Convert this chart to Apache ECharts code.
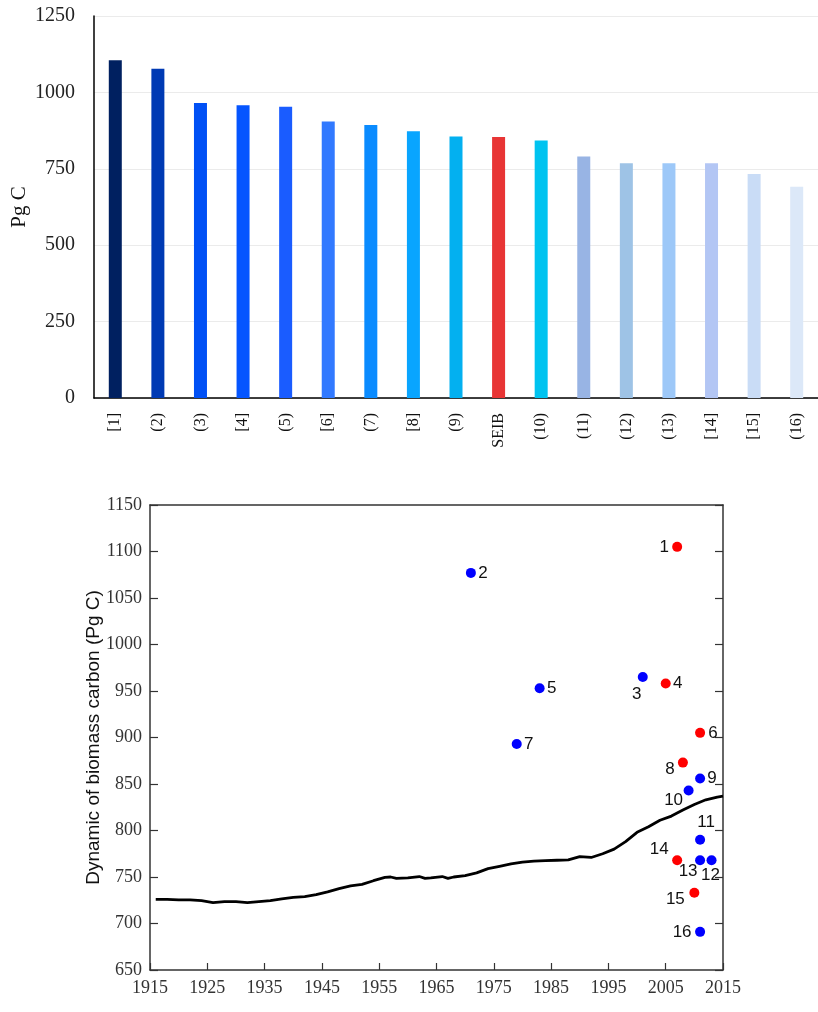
<!DOCTYPE html>
<html>
<head>
<meta charset="utf-8">
<script src="https://cdn.jsdelivr.net/npm/echarts@6/dist/echarts.min.js"></script>
<style>
  html, body { margin: 0; padding: 0; background: #ffffff; }
  #chart { width: 818px; height: 1012px; }
</style>
</head>
<body>
<div id="chart"></div>
<script>
// Global biomass carbon estimates (Pg C); square brackets mark the estimates shown in red
const barLabels = ['[1]', '(2)', '(3)', '[4]', '(5)', '[6]', '(7)', '[8]', '(9)', 'SEIB',
                   '(10)', '(11)', '(12)', '(13)', '[14]', '[15]', '(16)'];
const barValues = [1105, 1077, 965, 958, 953, 905, 893, 873, 856, 854,
                   843, 790, 768, 768, 768, 733, 691];
const barColors = ['#002060', '#003AB4', '#0050F5', '#0555FF', '#1A5CFF', '#3179FF',
                   '#0A8BFF', '#09A5FF', '#03B0F0', '#E83535', '#00C3F0', '#98B4E4',
                   '#9EC3E6', '#9DC8F8', '#B3C6F4', '#C9DCF6', '#DCE8F8'];

// Publication year of each numbered estimate 1..16
const studyYears = [2007, 1971, 2001, 2005, 1983, 2011, 1979, 2008,
                    2011, 2009, 2011, 2013, 2011, 2007, 2010, 2011];

// SEIB simulated biomass carbon trajectory
const modelYears = [1916, 1918, 1920, 1922, 1924, 1926, 1928, 1930, 1932, 1934,
                    1936, 1938, 1940, 1942, 1944, 1946, 1948, 1950, 1952, 1954,
                    1956, 1957, 1958, 1960, 1962, 1963, 1964, 1966, 1967, 1968,
                    1970, 1972, 1974, 1976, 1978, 1980, 1982, 1984, 1986, 1988,
                    1990, 1992, 1994, 1996, 1998, 2000, 2002, 2004, 2006, 2008,
                    2010, 2012, 2014, 2015];
const modelCarbon = [726, 726, 725.5, 725.5, 724.5, 722.5, 723.5, 723.5, 722.5, 723.5,
                     724.5, 726.5, 728, 729, 731, 734, 737.5, 740.5, 742, 746,
                     749.5, 750, 748.5, 749, 750.5, 748.5, 749, 750.5, 748.5, 750,
                     751.5, 754.5, 759, 761.5, 764, 766, 767, 767.5, 768, 768.5,
                     772, 771, 775, 780, 788, 798, 804, 811, 815.5, 822,
                     828, 833, 836, 837];

// label placement around each numbered dot (px offsets from the dot centre)
const dotLabelOffsets = [[-13, 0], [12, 0], [-6, 17], [12, 0], [12, 0], [13, 0], [12, 0], [-13, 7],
                         [12, 0], [-15, 10], [6, -17], [-1, 15], [-12, 11], [-18, -11], [-19, 7], [-18, 0]];

const serif = '"Liberation Serif", "Times New Roman", serif';
const sans = '"Liberation Sans", Arial, sans-serif';
const plain = v => String(v);

// numbered estimates (SEIB excluded), in publication-number order
const studies = barLabels
  .map((lab, i) => ({ lab, v: barValues[i] }))
  .filter(d => d.lab !== 'SEIB')
  .map(d => ({ n: parseInt(d.lab.replace(/[^0-9]/g, ''), 10), v: d.v, red: d.lab.startsWith('[') }))
  .sort((a, b) => a.n - b.n);

const scatterData = studies.map((s, i) => ({
  value: [studyYears[s.n - 1], s.v],
  itemStyle: { color: s.red ? '#FF0000' : '#0000FF', opacity: 1 },
  label: { show: true, formatter: String(s.n), offset: dotLabelOffsets[i] }
}));

const chart = echarts.init(document.getElementById('chart'), null, { renderer: 'canvas' });

chart.setOption({
  backgroundColor: '#ffffff',
  animation: false,
  grid: [
    { left: 94, top: 16, width: 733, height: 382 },
    { left: 150, top: 505, width: 573, height: 465 }
  ],
  xAxis: [
    {
      gridIndex: 0, type: 'category', data: barLabels,
      axisLine: { lineStyle: { color: '#000', width: 1.5 } },
      axisTick: { show: false },
      axisLabel: { rotate: 90, margin: 15, fontFamily: serif, fontSize: 16, color: '#111' }
    },
    {
      gridIndex: 1, type: 'value', min: 1915, max: 2015, interval: 10,
      axisLine: { onZero: false, lineStyle: { color: '#333', width: 1.5 } },
      axisTick: { inside: true, length: 7, lineStyle: { color: '#333', width: 1.2 } },
      axisLabel: { margin: 9, fontFamily: serif, fontSize: 18, color: '#333', formatter: plain },
      splitLine: { show: false }
    },
    {
      gridIndex: 1, type: 'value', position: 'top', min: 1915, max: 2015,
      axisLine: { onZero: false, lineStyle: { color: '#333', width: 1.5 } },
      axisTick: { show: false }, axisLabel: { show: false }, splitLine: { show: false }
    }
  ],
  yAxis: [
    {
      gridIndex: 0, type: 'value', min: 0, max: 1250, interval: 250,
      name: 'Pg C', nameLocation: 'middle', nameGap: 64, nameRotate: 90, nameMoveOverlap: false,
      nameTextStyle: { fontFamily: serif, fontSize: 21, color: '#111' },
      axisLine: { show: true, lineStyle: { color: '#000', width: 1.5 } },
      axisTick: { show: false },
      axisLabel: { margin: 19, fontFamily: serif, fontSize: 20, color: '#222', formatter: plain },
      splitLine: { lineStyle: { color: '#ebebeb', width: 1 } }
    },
    {
      gridIndex: 1, type: 'value', min: 650, max: 1150, interval: 50,
      name: 'Dynamic of biomass carbon (Pg C)', nameLocation: 'middle', nameGap: 47, nameRotate: 90,
      nameMoveOverlap: false,
      nameTextStyle: { fontFamily: sans, fontSize: 19, color: '#111' },
      axisLine: { show: true, onZero: false, lineStyle: { color: '#333', width: 1.5 } },
      axisTick: { inside: true, length: 8, lineStyle: { color: '#333', width: 1.2 } },
      axisLabel: { margin: 8, fontFamily: serif, fontSize: 18, color: '#333', formatter: plain },
      splitLine: { show: false }
    },
    {
      gridIndex: 1, type: 'value', position: 'right', min: 650, max: 1150, interval: 50,
      axisLine: { show: true, onZero: false, lineStyle: { color: '#333', width: 1.5 } },
      axisTick: { inside: true, length: 8, lineStyle: { color: '#333', width: 1.2 } },
      axisLabel: { show: false }, splitLine: { show: false }
    }
  ],
  series: [
    {
      type: 'bar', xAxisIndex: 0, yAxisIndex: 0, barWidth: 13,
      data: barValues.map((v, i) => ({ value: v, itemStyle: { color: barColors[i] } }))
    },
    {
      type: 'line', xAxisIndex: 1, yAxisIndex: 1, showSymbol: false, z: 2,
      lineStyle: { color: '#000', width: 2.8 },
      data: modelYears.map((y, i) => [y, modelCarbon[i]])
    },
    {
      type: 'scatter', xAxisIndex: 1, yAxisIndex: 1, symbolSize: 10, z: 3,
      itemStyle: { opacity: 1 },
      label: {
        position: 'inside', align: 'center', verticalAlign: 'middle',
        fontFamily: sans, fontSize: 17, color: '#111'
      },
      emphasis: { disabled: true },
      data: scatterData
    }
  ]
});
</script>
</body>
</html>
